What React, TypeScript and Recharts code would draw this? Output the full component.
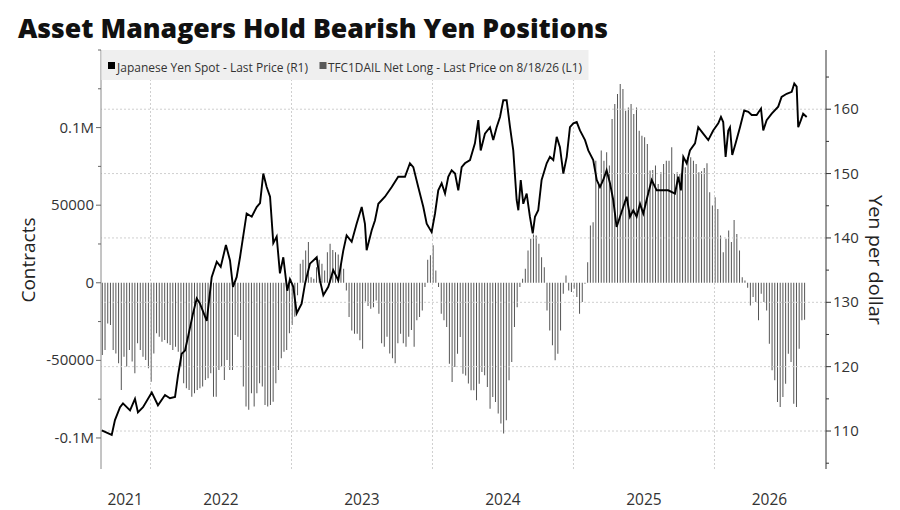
import React from 'react';
import { ComposedChart, Bar, Line, XAxis, YAxis, ReferenceLine } from 'recharts';

// First weekly observation, as a fractional year; one bar per week
const FIRST_WEEK = 2021.6596;

// TFC1DAIL net long, thousands of contracts, weekly
const netLongK = [
  -46.5, -43.3, -26.2, -27.2, -43.3, -45.5, -51.9, -69.1, -47.6, -54.0,
  -43.3, -50.8, -58.3, -39.0, -43.3, -47.6, -49.8, -55.1, -63.7, -45.5,
  -32.6, -34.7, -38.0, -36.9, -39.0, -40.1, -43.3, -41.2, -44.4, -54.0,
  -64.8, -68.0, -69.1, -73.4, -71.2, -69.1, -68.0, -66.9, -62.6, -61.6,
  -58.3, -73.4, -73.4, -56.2, -54.0, -62.6, -49.8, -56.2, -56.2, -33.7,
  -34.7, -36.9, -66.9, -79.8, -81.9, -71.2, -79.8, -71.2, -64.8, -66.9,
  -78.7, -79.8, -78.7, -76.6, -64.8, -56.2, -48.7, -44.4, -43.3, -32.6,
  -27.2, -21.9, -8.0, 12.2, 14.8, 20.8, 26.2, 3.6, 2.6, 10.0,
  14.8, 12.2, 7.9, 19.7, 25.1, 21.2, 19.7, 18.2, 12.2, 9.0,
  -4.9, -22.1, -30.7, -32.8, -32.8, -37.1, -42.5, -12.0, -15.0, -16.7,
  -15.7, -11.4, -19.9, -39.0, -41.2, -34.7, -45.5, -48.7, -51.9, -39.0,
  -32.8, -39.0, -41.2, -34.7, -30.5, -41.2, -24.2, -22.1, -17.8, -2.8,
  14.8, 17.8, 24.2, 7.9, -2.8, -19.9, -24.2, -28.5, -52.1, -64.0,
  -54.3, -45.7, -35.0, -58.6, -59.7, -64.9, -69.3, -69.3, -75.7, -65.0,
  -57.5, -59.6, -67.1, -81.1, -73.6, -76.8, -84.3, -90.7, -97.2, -88.6,
  -62.8, -51.1, -28.5, -15.7, -2.8, 2.6, 9.0, 20.8, 28.3, 31.1,
  30.5, 25.1, 16.5, 10.0, -17.8, -30.7, -40.3, -50.0, -45.7, -30.7,
  -7.1, 4.7, -4.9, -6.0, -3.9, -9.2, -19.9, -12.4, -0.6, 13.3,
  36.9, 39.0, 78.7, 64.8, 85.2, 78.7, 84.1, 75.5, 105.5, 115.2,
  121.6, 128.1, 124.8, 110.9, 113.0, 115.2, 108.7, 113.0, 98.0, 94.8,
  93.7, 89.4, 72.3, 72.7, 75.5, 63.7, 71.2, 76.6, 78.7, 78.7,
  87.3, 70.1, 71.2, 70.1, 78.7, 74.4, 80.9, 80.9, 78.7, 76.6,
  71.2, 71.9, 74.0, 77.0, 58.3, 49.8, 55.1, 47.6, 30.5, 19.7,
  28.3, 33.7, 26.2, 40.5, 31.5, 20.8, 3.6, 1.5, -3.2, -14.6,
  -9.2, -12.4, -24.2, -7.1, -12.4, -17.8, -39.3, -56.4, -62.8, -76.8,
  -80.0, -73.6, -65.0, -45.7, -51.1, -77.9, -80.0, -42.5, -24.2, -23.8,
];

// Japanese yen spot (yen per dollar): observation dates (fractional years) and prices
const lineDates = [
  2021.654, 2021.725, 2021.748, 2021.784, 2021.805, 2021.855, 2021.890, 2021.911, 2021.947,
  2022.009, 2022.053, 2022.103, 2022.138, 2022.174, 2022.195, 2022.221, 2022.245, 2022.266,
  2022.301, 2022.328, 2022.351, 2022.399, 2022.434, 2022.470, 2022.498, 2022.535, 2022.564,
  2022.585, 2022.611, 2022.635, 2022.682, 2022.718, 2022.753, 2022.777, 2022.800, 2022.824,
  2022.848, 2022.871, 2022.895, 2022.918, 2022.942, 2022.970, 2022.989,
  2023.013, 2023.037, 2023.072, 2023.096, 2023.131, 2023.179, 2023.202, 2023.226, 2023.261,
  2023.296, 2023.332, 2023.367, 2023.391, 2023.427, 2023.462, 2023.498, 2023.521, 2023.533,
  2023.569, 2023.592, 2023.616, 2023.663, 2023.711, 2023.757, 2023.805, 2023.840, 2023.864,
  2023.899, 2023.935, 2023.959, 2023.994,
  2024.018, 2024.041, 2024.065, 2024.089, 2024.112, 2024.136, 2024.160, 2024.183, 2024.207,
  2024.230, 2024.266, 2024.301, 2024.325, 2024.342, 2024.372, 2024.408, 2024.431, 2024.455,
  2024.479, 2024.502, 2024.526, 2024.550, 2024.573, 2024.597, 2024.609, 2024.626, 2024.644,
  2024.668, 2024.691, 2024.711, 2024.727, 2024.750, 2024.774, 2024.810, 2024.833, 2024.857,
  2024.881, 2024.904, 2024.928, 2024.952, 2024.975, 2024.999,
  2025.023, 2025.046, 2025.082, 2025.105, 2025.140, 2025.165, 2025.188, 2025.211, 2025.235,
  2025.259, 2025.282, 2025.306, 2025.330, 2025.353, 2025.377, 2025.401, 2025.424, 2025.448,
  2025.472, 2025.495, 2025.530, 2025.555, 2025.590, 2025.626, 2025.672, 2025.720, 2025.743,
  2025.762, 2025.779, 2025.803, 2025.826, 2025.862, 2025.885, 2025.920, 2025.956, 2025.991,
  2026.027, 2026.046, 2026.062, 2026.079, 2026.098, 2026.110, 2026.126, 2026.150, 2026.181,
  2026.211, 2026.240, 2026.264, 2026.299, 2026.330, 2026.346, 2026.370, 2026.406, 2026.452,
  2026.476, 2026.512, 2026.548, 2026.566, 2026.583, 2026.594, 2026.613, 2026.629, 2026.654,
];
const lineYen = [
  110.1, 109.4, 111.7, 113.7, 114.3, 113.2, 115.0, 112.9, 113.7,
  116.0, 114.0, 115.6, 115.1, 115.3, 118.6, 122.0, 122.5, 124.6,
  128.2, 130.6, 129.8, 127.1, 133.9, 136.3, 135.5, 138.9, 136.5,
  132.4, 133.9, 137.0, 143.8, 143.3, 144.8, 145.4, 150.0, 147.9,
  146.4, 139.2, 140.2, 134.5, 137.0, 131.8, 133.6,
  132.4, 128.3, 129.8, 132.9, 136.0, 137.0, 133.4, 131.1, 132.4,
  135.0, 133.4, 138.0, 140.4, 139.4, 142.2, 144.8, 142.2, 138.1,
  141.2, 142.7, 145.3, 146.4, 147.9, 149.5, 149.5, 151.6, 151.0,
  147.9, 144.8, 142.2, 140.9,
  143.8, 147.4, 148.5, 146.9, 149.5, 150.5, 150.0, 147.4, 151.0,
  151.6, 152.1, 154.7, 158.3, 153.6, 156.2, 157.2, 155.2, 157.2,
  158.8, 161.4, 161.4, 157.2, 153.6, 145.9, 144.3, 149.0, 145.3,
  146.9, 143.3, 140.7, 143.3, 144.3, 149.0, 151.6, 152.6, 152.1,
  155.7, 154.1, 150.0, 152.6, 157.2, 157.8,
  158.0, 156.7, 155.2, 153.6, 152.1, 149.0, 147.9, 149.0, 150.5,
  148.5, 145.9, 141.7, 143.3, 144.8, 146.4, 143.3, 144.3, 143.3,
  145.3, 143.8, 146.9, 149.0, 147.4, 147.4, 147.4, 146.9, 149.5,
  147.4, 152.6, 151.6, 153.6, 154.7, 157.2, 156.2, 155.2, 156.7,
  157.8, 158.8, 158.0, 152.6, 156.7, 157.2, 152.9, 154.7, 157.2,
  159.8, 159.6, 159.1, 159.1, 160.1, 156.7, 158.3, 159.3, 160.4,
  161.9, 162.4, 162.7, 164.0, 163.5, 157.2, 158.3, 159.3, 158.8,
];

const yearLabelTicks = [2021.82, 2022.5, 2023.5, 2024.5, 2025.5, 2026.39];
const yearBoundaries = [2022, 2023, 2024, 2025, 2026];
const leftTicks = [-100000, -75000, -50000, -25000, 0, 25000, 50000, 75000, 100000, 125000, 150000];
const rightTicks = [105, 110, 115, 120, 125, 130, 135, 140, 145, 150, 155, 160, 165];
const rightGridValues = [110, 120, 130, 140, 150, 160];
const X_DOMAIN = [2021.649, 2026.791];

const barData = netLongK.map((v, i) => ({ week: i, t: FIRST_WEEK + i / 52, net: v * 1000 }));
const lineData = lineDates.map((t, i) => ({ t, yen: lineYen[i] }));

const FONT = '"Open Sans", "DejaVu Sans", sans-serif';
const GRID = '#cfcfcf';

const fmtLeft = (v: number) => (Math.abs(v) >= 100000 ? `${v / 1000000}M` : `${v}`);

const LeftTick = (props: any) => {
  const { x, y, payload } = props;
  const v = payload.value as number;
  const major = v % 50000 === 0 && v !== 150000;
  return (
    <g>
      <line x1={x - (major ? 5 : 3)} x2={x} y1={y} y2={y} stroke="#666" strokeWidth={1} />
      {major && (
        <text x={x - 7} y={y} dy={5} textAnchor="end" fontSize={15} fontFamily={FONT} fill="#333">
          {fmtLeft(v)}
        </text>
      )}
    </g>
  );
};

const RightTick = (props: any) => {
  const { x, y, payload } = props;
  const v = payload.value as number;
  const major = v % 10 === 0;
  return (
    <g>
      <line x1={x} x2={x + (major ? 5 : 3)} y1={y} y2={y} stroke="#333" strokeWidth={1} />
      {major && (
        <text x={x + 7} y={y} dy={5} textAnchor="start" fontSize={15} fontFamily={FONT} fill="#333">
          {v}
        </text>
      )}
    </g>
  );
};

const YearTick = (props: any) => {
  const { x, y, payload } = props;
  return (
    <text x={x} y={y + 36} textAnchor="middle" fontSize={15.5} fontFamily={FONT} fill="#333">
      {Math.floor(payload.value)}
    </text>
  );
};

export default function App() {
  return (
    <div style={{ position: 'absolute', left: 0, top: 0, width: 900, height: 510, background: '#fff' }}>
      <ComposedChart
        width={900}
        height={510}
        data={barData}
        barCategoryGap="30%"
        margin={{ top: 50, right: 0, bottom: 0, left: 0 }}
      >
        <XAxis
          xAxisId="line"
          dataKey="t"
          type="number"
          domain={X_DOMAIN}
          allowDataOverflow
          ticks={yearLabelTicks}
          interval={0}
          height={41}
          axisLine={false}
          tickLine={false}
          tickSize={0}
          tickMargin={0}
          tick={<YearTick />}
        />
        <XAxis
          xAxisId="bars"
          dataKey="week"
          type="category"
          orientation="top"
          padding={{ left: 0, right: 20 }}
          hide
        />
        <YAxis
          yAxisId="left"
          orientation="left"
          width={101}
          domain={[-120000, 150000]}
          allowDataOverflow
          ticks={leftTicks}
          interval={0}
          tickLine={false}
          tickSize={0}
          tickMargin={0}
          axisLine={{ stroke: '#8a8a8a', strokeWidth: 1 }}
          tick={<LeftTick />}
        />
        <YAxis
          yAxisId="right"
          orientation="right"
          width={74}
          domain={[104.1, 169.2]}
          allowDataOverflow
          ticks={rightTicks}
          interval={0}
          tickLine={false}
          tickSize={0}
          tickMargin={0}
          axisLine={{ stroke: '#333', strokeWidth: 1 }}
          tick={<RightTick />}
        />
        {yearBoundaries.map((yr) => (
          <ReferenceLine key={`vx${yr}`} x={yr} xAxisId="line" yAxisId="left" stroke={GRID} strokeDasharray="2 2" />
        ))}
        {rightGridValues.map((v) => (
          <ReferenceLine key={`hy${v}`} y={v} xAxisId="line" yAxisId="right" stroke={GRID} strokeDasharray="2 2" />
        ))}
        <Bar dataKey="net" xAxisId="bars" yAxisId="left" fill="#555555" isAnimationActive={false} />
        <Line
          data={lineData}
          dataKey="yen"
          xAxisId="line"
          yAxisId="right"
          type="linear"
          stroke="#000"
          strokeWidth={1.9}
          dot={false}
          activeDot={false}
          isAnimationActive={false}
        />
      </ComposedChart>
      <svg
        width={900}
        height={510}
        style={{ position: 'absolute', left: 0, top: 0, pointerEvents: 'none' }}
      >
        <text
          x={18}
          y={38}
          fontSize={26}
          fontWeight={800}
          fontFamily={FONT}
          fill="#111"
          textLength={590}
          lengthAdjust="spacingAndGlyphs"
        >
          Asset Managers Hold Bearish Yen Positions
        </text>
        <rect x={101.5} y={50} width={487} height={30} fill="#efefef" />
        <rect x={108} y={62} width={7} height={7} fill="#000" />
        <text x={117} y={71.5} fontSize={13} fontFamily={FONT} fill="#333" textLength={191} lengthAdjust="spacingAndGlyphs">
          Japanese Yen Spot - Last Price (R1)
        </text>
        <rect x={319.5} y={62} width={7} height={7} fill="#5a5a5a" />
        <text x={328} y={71.5} fontSize={13} fontFamily={FONT} fill="#333" textLength={254} lengthAdjust="spacingAndGlyphs">
          TFC1DAIL Net Long - Last Price on 8/18/26 (L1)
        </text>
        <text
          x={28}
          y={260}
          dy="0.35em"
          transform="rotate(-90 28 260)"
          textAnchor="middle"
          fontSize={19}
          fontFamily={FONT}
          fill="#222"
        >
          Contracts
        </text>
        <text
          x={876}
          y={260}
          dy="0.35em"
          transform="rotate(90 876 260)"
          textAnchor="middle"
          fontSize={19}
          fontFamily={FONT}
          fill="#222"
          textLength={130}
          lengthAdjust="spacingAndGlyphs"
        >
          Yen per dollar
        </text>
      </svg>
    </div>
  );
}
